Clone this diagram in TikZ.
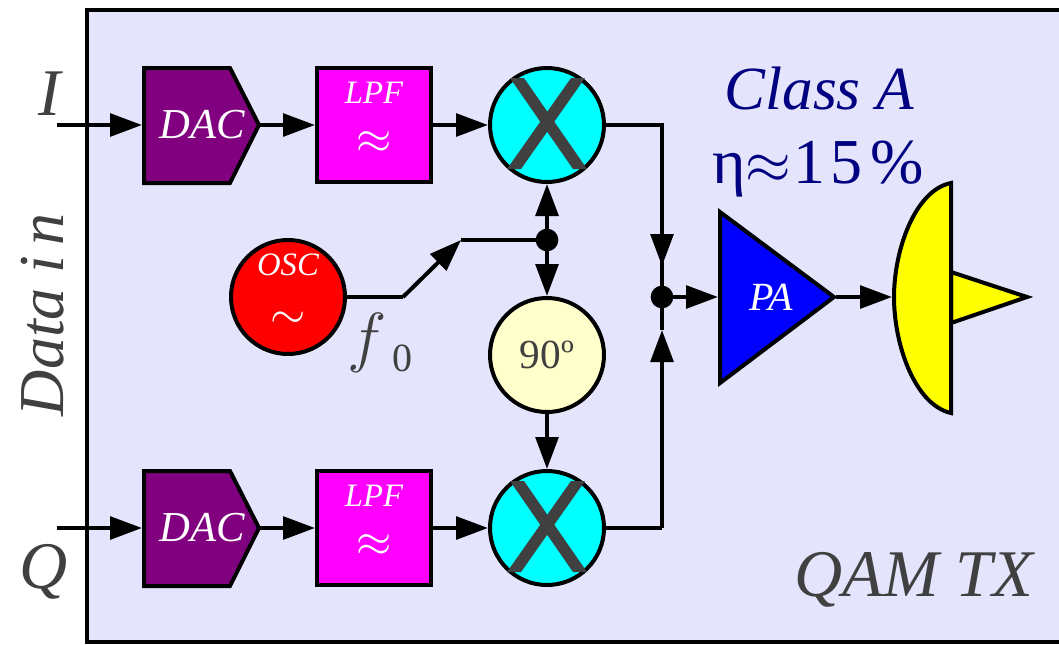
\documentclass[tikz,border=0pt]{standalone}
\usepackage{fix-cm}
\usepackage{fontspec}
\setmainfont{Liberation Serif}
\usetikzlibrary{arrows.meta}
\definecolor{panelc}{HTML}{E4E4FC}
\definecolor{darkgr}{HTML}{404040}
\definecolor{dacc}{HTML}{800080}
\definecolor{lpfc}{HTML}{FF00FF}
\definecolor{cream}{HTML}{FFFFCC}
\definecolor{navyc}{HTML}{000080}
\definecolor{cyanc}{HTML}{00FFFF}
\definecolor{yellowc}{HTML}{FFFF00}
\definecolor{redc}{HTML}{FF0000}
\definecolor{bluec}{HTML}{0000FF}
\newcommand{\pxfont}[1]{\fontsize{#1}{#1}\selectfont}
\tikzset{
  x=.75pt,y=-.75pt,
  outl/.style={draw=black,line width=3pt,line join=miter,miter limit=10},
  wire/.style={draw=black,line width=3pt,line join=miter},
  arr/.style={wire,-{Triangle[length=24pt,width=17pt]}},
  lpfbox/.style={outl,fill=lpfc,minimum width=85.5pt,minimum height=85.5pt,inner sep=0pt},
  circ/.style={outl,circle,minimum size=85.5pt,inner sep=0pt},
  mixer/.style={circ,fill=cyanc},
  mixx/.style={fill=darkgr},
  dot/.style={circle,fill=black,minimum size=17pt,inner sep=0pt,line width=0pt},
  wlabel/.style={text=white,font=\itshape,inner sep=0pt},
  glabel/.style={text=darkgr,inner sep=0pt},
  nlabel/.style={text=navyc,inner sep=0pt}
}
\begin{document}
\begin{tikzpicture}
\path[use as bounding box] (0,0) rectangle (1059,644);
\fill[panelc] (87,10) rectangle (1059,642);
\draw[line width=3pt] (1059,10) -- (87,10) -- (87,642) -- (1059,642);

% free ends
\coordinate (iin) at (57,125);
\coordinate (qin) at (57,528);
% DAC I
\draw[outl,fill=dacc] (144,68) -- (230,68) -- (259,125) -- (230,183) -- (144,183) -- cycle;
\node[wlabel,font=\itshape\pxfont{32}] (dacI) at (202,125) {DAC};
\coordinate (dacIw) at (142,125); \coordinate (dacIe) at (260,125);
% DAC Q
\draw[outl,fill=dacc] (144,471) -- (230,471) -- (259,528) -- (230,586) -- (144,586) -- cycle;
\node[wlabel,font=\itshape\pxfont{32}] (dacQ) at (202,528) {DAC};
\coordinate (dacQw) at (142,528); \coordinate (dacQe) at (260,528);
% LPF
\node[lpfbox] (lpfI) at (374,125) {};
\node[wlabel,font=\itshape\pxfont{24.5}] (lpfIt) at (374,93) {LPF};
\node[wlabel,font=\pxfont{34}] (lpfIa) at (374,143) {$\approx$};
\node[lpfbox] (lpfQ) at (374,528) {};
\node[wlabel,font=\itshape\pxfont{24.5}] (lpfQt) at (374,496) {LPF};
\node[wlabel,font=\pxfont{34}] (lpfQa) at (374,546) {$\approx$};
% mixers
\node[mixer] (mixI) at (547,125) {};
\fill[mixx] (510,78) -- (524,78) -- (587,169) -- (573,169) -- cycle;
\fill[mixx] (571,78) -- (585,78) -- (521,169) -- (507,169) -- cycle;
\node[mixer] (mixQ) at (547,528) {};
\fill[mixx] (510,481) -- (524,481) -- (587,572) -- (573,572) -- cycle;
\fill[mixx] (571,481) -- (585,481) -- (521,572) -- (507,572) -- cycle;
% OSC
\node[circ,fill=redc] (osc) at (288,297) {};
\node[wlabel,font=\itshape\pxfont{24.5}] (osct) at (288,265) {OSC};
\node[wlabel,font=\pxfont{34}] (osctl) at (288,320) {$\sim$};
% 90
\node[circ,fill=cream,text=darkgr,font=\pxfont{31}] (ph) at (547,355) {90º};
% PA
\draw[outl,fill=bluec] (720,212) -- (834,297) -- (720,383) -- cycle;
\node[wlabel,font=\itshape\pxfont{30}] (pat) at (771,297) {PA};
\coordinate (paw) at (718,297); \coordinate (pae) at (836,297);
% Antenna
\draw[outl,fill=yellowc] (951,272) -- (1027,297) -- (951,323) -- cycle;
\draw[outl,fill=yellowc] (951,183) .. controls (915,190) and (894,250) .. (894,297) .. controls (894,345) and (915,405) .. (951,413) -- cycle;
\coordinate (antw) at (892,297);
% junctions
\node[dot] (j1) at (547,240) {};
\node[dot] (j2) at (662,297) {};
\coordinate (k1) at (403,297);
\coordinate (k2) at (461,240);
\coordinate (c1) at (662,125);
\coordinate (c2) at (662,528);
\coordinate (t1) at (662,266);
\coordinate (t2) at (662,330);
% wires
\draw[arr] (iin) -- (dacIw);
\draw[arr] (qin) -- (dacQw);
\draw[arr] (dacIe) -- (lpfI);
\draw[arr] (dacQe) -- (lpfQ);
\draw[arr] (lpfI) -- (mixI);
\draw[arr] (lpfQ) -- (mixQ);
\draw[wire] (osc) -- (k1);
\draw[arr] (k1) -- (k2);
\draw[wire] (k2) -- (j1.center);
\draw[arr] (j1.center) -- (mixI);
\draw[arr] (j1.center) -- (ph);
\draw[arr] (ph) -- (mixQ);
\draw[wire] (mixI) -- (c1) -- (t1);
\draw[arr] (c1) -- (t1);
\draw[wire] (t1) -- (j2.center);
\draw[wire] (mixQ) -- (c2);
\draw[arr] (c2) -- (t2);
\draw[wire] (t2) -- (j2.center);
\draw[arr] (j2.center) -- (paw);
\draw[arr] (pae) -- (antw);
% labels
\node[glabel,font=\itshape\pxfont{50},anchor=base] (ilab) at (50,115) {I};
\node[glabel,font=\itshape\pxfont{50},anchor=base] (qlab) at (44,588) {Q};
\node[glabel,font=\itshape\pxfont{48},rotate=90,anchor=base] (datain) at (63,315) {Data\hspace{.22em}i\hspace{.16em}n};
\node[glabel,font=\pxfont{50},anchor=base] (flab) at (367,359) {$f$};
\node[glabel,font=\pxfont{30},anchor=base] (zlab) at (402,371) {0};
\node[glabel,font=\itshape\pxfont{50},anchor=base] (qam) at (914,596) {QAM TX};
\node[nlabel,font=\itshape\pxfont{46},anchor=base] (cla) at (819,109) {Class A};
\node[nlabel,font=\pxfont{48},anchor=base] (eta) at (818,183) {η{\pxfont{44}$\approx$}\hspace{.04em}1\hspace{.08em}5\hspace{.12em}\%};
\end{tikzpicture}
\end{document}
